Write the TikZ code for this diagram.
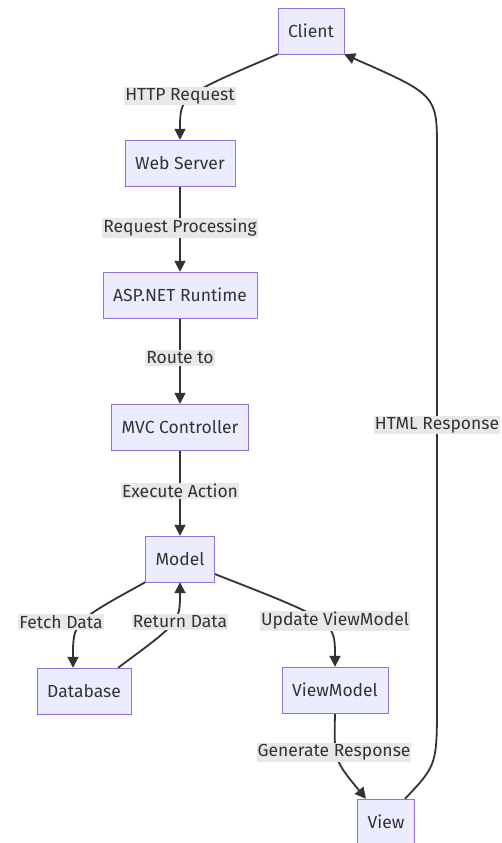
\documentclass[tikz,border=0pt]{standalone}
\usepackage{fontspec}
\setmainfont{Fira Sans}
\usetikzlibrary{arrows.meta}
\definecolor{boxfill}{HTML}{ECECFF}
\definecolor{boxline}{HTML}{9370DB}
\definecolor{ink}{HTML}{333333}
\definecolor{lblfill}{HTML}{E8E8E8}
\pgfdeclarelayer{paper}
\pgfdeclarelayer{edges}
\pgfsetlayers{paper,edges,main}

\begin{document}
\begin{tikzpicture}[x=1pt,y=-1pt,
    box/.style={draw=boxline,fill=boxfill,text=ink,minimum height=46pt,inner xsep=10pt,font=\fontsize{17.5}{20}\selectfont},
    lbl/.style={fill=lblfill,text=ink,inner xsep=1pt,inner ysep=1.5pt,font=\fontsize{17.5}{20}\selectfont},
    flow/.style={draw=ink,line width=1.8pt,-{Triangle[length=11pt,width=11pt]}}]
        \begin{pgfonlayer}{paper}
        \fill[white] (0,0) rectangle (502,843);
        \end{pgfonlayer}
        \useasboundingbox (0,0) rectangle (502,843);

        % boxes
        \node[box] (client) at (311,31) {Client};
        \node[box] (web) at (180,163) {Web Server};
        \node[box] (asp) at (180,295) {ASP.NET Runtime};
        \node[box] (mvc) at (180,427) {MVC Controller};
        \node[box] (model) at (180,559) {Model};
        \node[box] (db) at (84,691) {Database};
        \node[box] (vm) at (335,690) {ViewModel};
        \node[box] (view) at (386,822) {View};

        % edge labels
        \node[lbl] (lhttp) at (180,96) {HTTP Request};
        \node[lbl] (lproc) at (180,228) {Request Processing};
        \node[lbl] (lroute) at (180,358) {Route to};
        \node[lbl] (lexec) at (180,491) {Execute Action};
        \node[lbl] (lfetch) at (61,622) {Fetch Data};
        \node[lbl] (lreturn) at (180,622) {Return Data};
        \node[lbl] (lupdate) at (335,621) {Update ViewModel};
        \node[lbl] (lgen) at (334,752) {Generate Response};
        \node[lbl] (lhtml) at (437,425) {HTML Response};

        \coordinate (rlow) at (437,700);
        \coordinate (rhigh) at (437,150);

        \begin{pgfonlayer}{edges}
        \draw[flow] (client.south west) .. controls (lhttp.center) .. (web.north);
        \draw[flow] (web) -- (asp);
        \draw[flow] (asp) -- (mvc);
        \draw[flow] (mvc) -- (model);
        \draw[flow] (model.south west) .. controls ([xshift=12pt]lfetch.center) .. ([xshift=-11pt]db.north);
        \draw[flow] ([xshift=-13pt]db.north east) .. controls (lreturn.center) .. (model.south);
        \draw[flow] ([yshift=-15pt]model.east) .. controls (lupdate.center) .. (vm.north);
        \draw[flow] (vm.south) .. controls ([yshift=-8pt]lgen.center) .. ([xshift=-20pt]view.north);
        \draw[flow] ([xshift=19pt]view.north) .. controls (437,765) .. (rlow) -- (rhigh) .. controls (437,95) .. (client.south east);
        \end{pgfonlayer}
\end{tikzpicture}
\end{document}
